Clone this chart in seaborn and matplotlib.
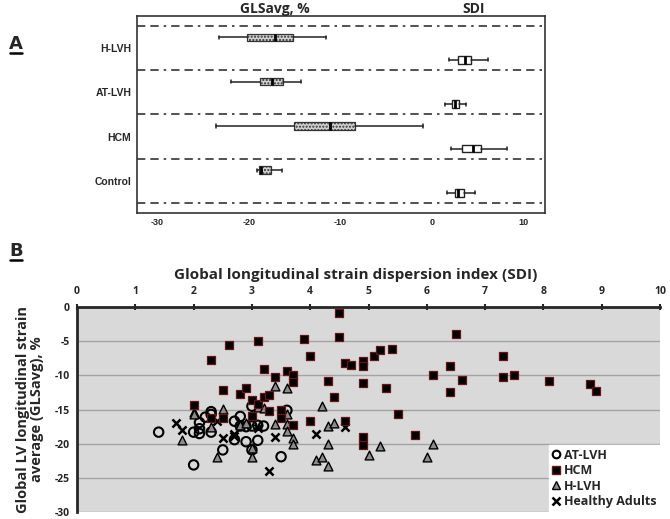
import matplotlib
matplotlib.use('Agg')
import matplotlib.pyplot as plt
import seaborn as sns
import pandas as pd
from matplotlib.lines import Line2D

# ---- Panel A: box summaries (whisker low, Q1, median, Q3, whisker high) ----
groups = ['H-LVH', 'AT-LVH', 'HCM', 'Control']
gls_lo = [-23.2, -21.9, -23.6, -19.1]
gls_q1 = [-20.2, -18.8, -15.1, -18.9]
gls_med = [-17.1, -17.5, -11.1, -18.6]
gls_q3 = [-15.2, -16.2, -8.4, -17.6]
gls_hi = [-11.5, -14.3, -0.9, -16.4]
sdi_lo = [1.9, 1.4, 2.1, 1.7]
sdi_q1 = [2.9, 2.2, 3.3, 2.5]
sdi_med = [3.6, 2.6, 4.5, 2.9]
sdi_q3 = [4.3, 3.0, 5.4, 3.5]
sdi_hi = [6.1, 3.7, 8.2, 4.7]
a_ticks = [-30, -20, -10, 0, 10]

# ---- Panel B: SDI (x) vs GLSavg (y) ----
at_lvh_x = [1.4, 2.0, 2.0, 2.1, 2.1, 2.1, 2.2, 2.3, 2.3, 2.3, 2.5, 2.7, 2.7,
            2.8, 2.8, 2.9, 2.9, 3.0, 3.0, 3.0, 3.1, 3.1, 3.2, 3.5, 3.6]
at_lvh_y = [-18.3, -18.3, -23.1, -16.9, -17.8, -18.5, -16.1, -15.3, -15.7, -18.3, -20.9, -16.7, -19.4,
            -16.0, -17.4, -17.5, -19.7, -14.5, -17.4, -20.9, -17.3, -19.5, -17.4, -21.9, -15.1]

hcm_x = [2.0, 2.3, 2.3, 2.5, 2.5, 2.6, 2.8, 2.9, 3.0, 3.0, 3.1, 3.1, 3.2, 3.2,
         3.3, 3.3, 3.4, 3.5, 3.5, 3.6, 3.7, 3.7, 3.7, 3.9, 4.0, 4.0, 4.3, 4.4,
         4.5, 4.5, 4.6, 4.7, 4.6, 4.9, 4.9, 4.9, 4.9, 4.9, 5.1, 5.2, 5.3, 5.4,
         5.5, 5.8, 6.1, 6.4, 6.4, 6.5, 6.6, 7.3, 7.3, 7.5, 8.1, 8.8, 8.9]
hcm_y = [-14.3, -7.8, -16.3, -12.1, -16.2, -5.5, -12.7, -11.8, -13.6, -16.0, -4.9, -14.2, -9.1, -13.1,
         -12.9, -15.2, -10.2, -15.0, -16.2, -9.3, -10.0, -10.9, -17.2, -4.7, -7.1, -16.6, -10.8, -13.2,
         -0.9, -4.3, -8.2, -8.5, -16.7, -7.9, -8.6, -11.1, -19.0, -20.2, -7.2, -6.2, -11.8, -6.1,
         -15.6, -18.7, -10.0, -8.6, -12.4, -3.9, -10.7, -7.1, -10.2, -9.9, -10.8, -11.2, -12.2]

h_lvh_x = [1.8, 2.0, 2.0, 2.3, 2.4, 2.5, 2.8, 2.9, 3.0, 3.0, 3.1, 3.2, 3.4, 3.4, 3.6, 3.6,
           3.6, 3.6, 3.7, 3.7, 4.1, 4.2, 4.2, 4.3, 4.3, 4.3, 4.4, 5.0, 5.2, 6.0, 6.1]
h_lvh_y = [-19.5, -15.3, -15.7, -17.5, -22.0, -14.9, -17.3, -16.9, -20.6, -21.9, -14.6, -14.8, -11.6, -17.1, -11.9, -15.6,
           -17.1, -18.2, -19.1, -20.1, -22.4, -14.4, -21.9, -17.4, -20.1, -23.3, -16.9, -21.6, -20.3, -22.0, -20.0]

healthy_x = [1.7, 1.8, 2.4, 2.5, 2.7, 2.7, 3.1, 3.3, 3.4, 4.1, 4.6]
healthy_y = [-16.9, -18.0, -16.6, -19.2, -18.5, -18.9, -17.7, -24.0, -19.0, -18.5, -17.6]

sns.set_style('white')
plt.rcParams['font.family'] = ['Liberation Sans', 'DejaVu Sans']

fig = plt.figure(figsize=(6.7, 5.19), dpi=100)

# ================= Panel A =================
axA = fig.add_axes([0.2045, 0.590, 0.6085, 0.379])


def stats_for(lo, q1, med, q3, hi):
    return [dict(whislo=a, q1=b, med=c, q3=d, whishi=e, fliers=[])
            for a, b, c, d, e in zip(lo, q1, med, q3, hi)]


pos = list(range(len(groups)))
gls_stats = stats_for(gls_lo, gls_q1, gls_med, gls_q3, gls_hi)
sdi_stats = stats_for(sdi_lo, sdi_q1, sdi_med, sdi_q3, sdi_hi)

box_kw = dict(orientation='horizontal', widths=0.17, patch_artist=True, showfliers=False,
              capwidths=0.07,
              whiskerprops=dict(color='#222222', lw=1.1),
              capprops=dict(color='#222222', lw=1.1),
              medianprops=dict(color='black', lw=2))
axA.bxp(gls_stats, positions=[p - 0.24 for p in pos],
        boxprops=dict(facecolor='#d0d0d0', edgecolor='#333333', lw=0.9, hatch='.....'),
        **box_kw)
axA.bxp(sdi_stats, positions=[p + 0.27 for p in pos],
        boxprops=dict(facecolor='white', edgecolor='#222222', lw=1.0),
        **box_kw)

for yl in [-0.5, 0.5, 1.5, 2.5, 3.5]:
    axA.axhline(yl, color='#333333', lw=1.2, dashes=(5, 3, 5, 3, 1.5, 3))

axA.set_xlim(-32.2, 12.35)
axA.set_ylim(3.72, -0.72)
axA.set_yticks(pos)
axA.set_yticklabels(groups, fontsize=7.5, fontweight='bold')
axA.set_xticks(a_ticks)
axA.set_xticklabels([str(t) for t in a_ticks], fontsize=6.5, fontweight='bold')
axA.tick_params(axis='both', which='both', length=3, width=1, direction='out', color='#333333', pad=1)
for s in axA.spines.values():
    s.set_color('#333333')
    s.set_linewidth(1.2)
axA.set_xlabel('')
axA.set_ylabel('')

fontB = ['Open Sans', 'DejaVu Sans']
fig.text(275 / 670, 1 - 9 / 519, 'GLSavg, %', ha='center', va='center', fontsize=10,
         fontweight='bold', family=fontB)
fig.text(474 / 670, 1 - 9 / 519, 'SDI', ha='center', va='center', fontsize=10,
         fontweight='bold', family=fontB)
fig.text(16 / 670, 1 - 44 / 519, 'A', ha='center', va='center', fontsize=13,
         fontweight='heavy', family=['DejaVu Sans'])
fig.add_artist(Line2D([10 / 670, 22 / 670], [1 - 52.5 / 519, 1 - 52.5 / 519], color='black', lw=1.8))

# ================= Panel B =================
axB = fig.add_axes([0.115, 0.0135, 0.870, 0.3945])
axB.set_facecolor('#d9d9d9')
axB.set_axisbelow(True)
axB.yaxis.grid(True, color='#a3a3a3', lw=1)

sns.scatterplot(x=at_lvh_x, y=at_lvh_y, ax=axB, marker='o', s=46, facecolor='none',
                edgecolor='black', linewidth=1.5, legend=False, zorder=3)
sns.scatterplot(x=hcm_x, y=hcm_y, ax=axB, marker='s', s=36, color='black',
                edgecolor='#6b1414', linewidth=0.9, legend=False, zorder=4)
sns.scatterplot(x=h_lvh_x, y=h_lvh_y, ax=axB, marker='^', s=40, color='#8c8c8c',
                edgecolor='black', linewidth=1.0, legend=False, zorder=3)
sns.scatterplot(x=healthy_x, y=healthy_y, ax=axB, marker='x', s=34, color='black',
                linewidth=1.8, legend=False, zorder=3)

axB.set_xlim(0, 10)
axB.set_ylim(-30, 0)
axB.xaxis.tick_top()
axB.xaxis.set_label_position('top')
axB.set_xticks(range(0, 11))
axB.set_yticks(range(-30, 1, 5))
axB.set_xticklabels([str(v) for v in range(0, 11)], fontsize=7.5, fontweight='bold', family=fontB)
axB.set_yticklabels([str(v) for v in range(-30, 1, 5)], fontsize=7.5, fontweight='bold', family=fontB)
axB.tick_params(axis='x', direction='inout', length=5, width=1.5, pad=5)
axB.tick_params(axis='y', direction='out', length=3, width=1.5, pad=2)
axB.spines['right'].set_visible(False)
axB.spines['bottom'].set_visible(False)
axB.spines['top'].set_linewidth(2)
axB.spines['left'].set_linewidth(2)
axB.set_xlabel('Global longitudinal strain dispersion index (SDI)', fontsize=11,
               fontweight='bold', family=fontB)
axB.xaxis.set_label_coords((356 - 77) / 583, 1.14)
axB.set_ylabel('Global LV longitudinal strain\naverage (GLSavg), %', fontsize=10.5,
               fontweight='bold', family=fontB, linespacing=1.05)
axB.yaxis.set_label_coords(-0.056, 0.5)

handles = [
    Line2D([], [], ls='none', marker='o', ms=5.5, mfc='white', mec='black', mew=1.5),
    Line2D([], [], ls='none', marker='s', ms=5.5, mfc='black', mec='#6b1414'),
    Line2D([], [], ls='none', marker='^', ms=5.5, mfc='#8c8c8c', mec='black'),
    Line2D([], [], ls='none', marker='x', ms=5.5, mec='black', mew=1.8),
]
leg = axB.legend(handles, ['AT-LVH', 'HCM', 'H-LVH', 'Healthy Adults'], loc='lower right',
                 frameon=True, fancybox=False, edgecolor='white', facecolor='white', framealpha=1,
                 prop=dict(family=fontB, weight='bold', size=9), handlelength=0.6,
                 handletextpad=0.3, labelspacing=0.2, borderpad=0.3, borderaxespad=0)
leg.set_zorder(10)

fig.text(16 / 670, 1 - 251 / 519, 'B', ha='center', va='center', fontsize=13,
         fontweight='heavy', family=['DejaVu Sans'])
fig.add_artist(Line2D([10 / 670, 22 / 670], [1 - 259.5 / 519, 1 - 259.5 / 519], color='black', lw=1.8))

fig.savefig('out.png', dpi=100)
